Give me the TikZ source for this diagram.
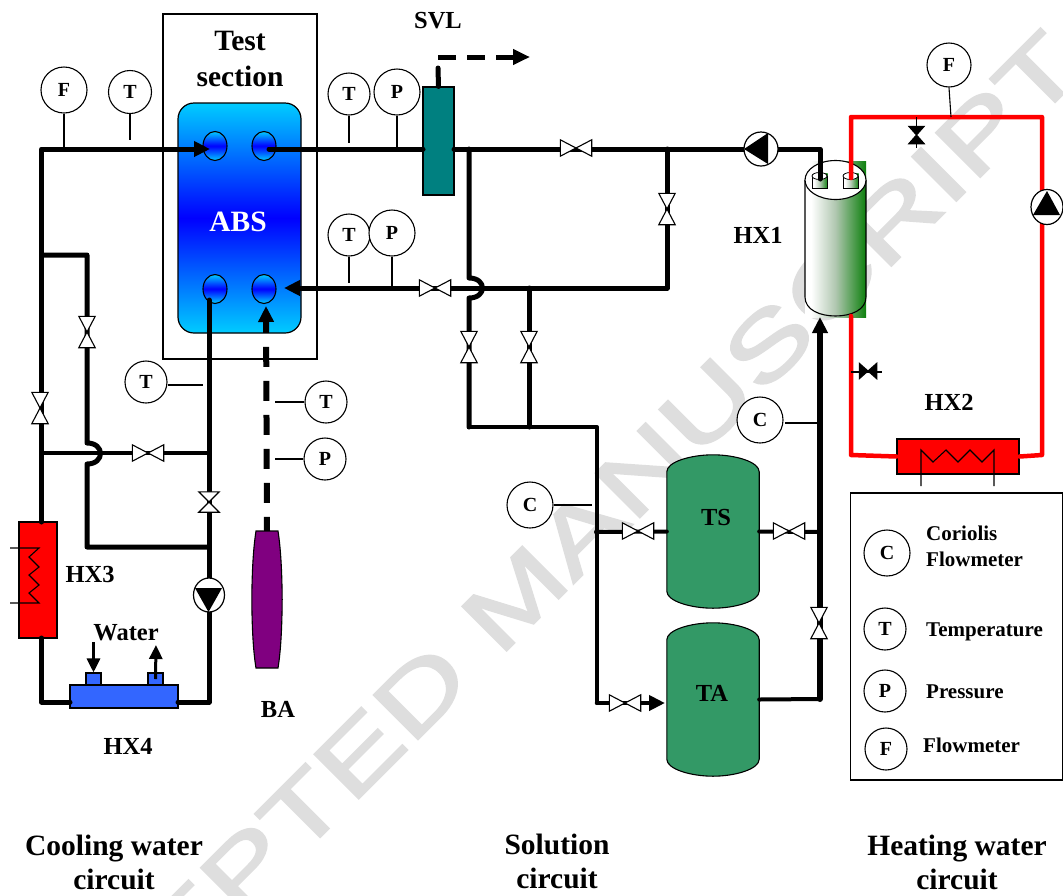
\documentclass[tikz,border=0pt]{standalone}
\usepackage{fontspec}
\setmainfont{Liberation Serif}
\newfontfamily\wmfont[FakeBold=2]{Liberation Sans}
\usetikzlibrary{arrows.meta,calc,shapes.geometric}
\pgfdeclarelayer{wm}\pgfdeclarelayer{equip}\pgfdeclarelayer{pipes}
\pgfsetlayers{wm,equip,pipes,main}
\definecolor{tankgreen}{HTML}{339966}
\definecolor{svlteal}{HTML}{008080}
\definecolor{bapurple}{HTML}{800080}
\definecolor{hxblue}{HTML}{3366FF}
\definecolor{abscyan}{RGB}{0,204,255}
\definecolor{wmgray}{gray}{0.87}
\pgfdeclarehorizontalshading{hxgrad}{100bp}{rgb(0bp)=(1,1,1); rgb(30bp)=(1,1,1); rgb(50bp)=(.69,.78,.69); rgb(75bp)=(.05,.5,.05); rgb(100bp)=(.05,.5,.05)}
\newcommand\fs[1]{\fontsize{#1}{#1}\selectfont\bfseries}
\tikzset{
  x=1pt,y=-1pt,
  pipe/.style={line width=5pt,line cap=round,line join=round},
  thinpipe/.style={line width=4pt,line cap=round,line join=round},
  redpipe/.style={line width=4.5pt,line cap=round,line join=round,red},
  thinline/.style={line width=1.1pt,black},
  inst/.style={circle,draw=black,line width=1.1pt,fill=white,inner sep=0pt,font=\fs{20}},
  lab/.style={inner sep=0pt,font=\fs{24.5},black},
  legt/.style={inner sep=0pt,anchor=west,font=\fs{21},black},
  big/.style={inner sep=0pt,font=\fs{29.5},black},
  vline/.style={draw=black,fill=white,line width=1.1pt,line join=miter},
  bline/.style={draw=black,fill=black,line width=1.1pt},
  pumpbody/.style={ellipse,draw=black,line width=1.2pt,fill=white,inner sep=0pt,minimum width=#1},
  port/.style={ellipse,draw=black,line width=1.1pt,minimum width=24pt,minimum height=29pt,inner sep=0pt,
     top color=abscyan,bottom color=abscyan,middle color=blue},
  tank/.style={draw=black,line width=1.1pt,fill=tankgreen},
  box/.style={draw=black,line width=1.1pt,inner sep=0pt},
  tipa/.style={-{Triangle[length=16pt,width=15pt]}},
}
\newcommand\valveh[3][]{\node[inner sep=0pt,minimum width=31pt,minimum height=16pt,#1] (#2) at (#3) {};
  \draw[vline] (#2.north west)--(#2.south east)--(#2.north east)--(#2.south west)--cycle;}
\newcommand\valvev[3][]{\node[inner sep=0pt,minimum width=16pt,minimum height=31pt,#1] (#2) at (#3) {};
  \draw[vline] (#2.north west)--(#2.north east)--(#2.south west)--(#2.south east)--cycle;}
\begin{document}
\begin{tikzpicture}
\useasboundingbox (0,0) rectangle (1063,895);

% ---------- watermark
\begin{pgfonlayer}{wm}
\fill[white] (0,0) rectangle (1063,895);
\begin{scope}
\clip (0,0) rectangle (1063,895);
\node[rotate=45,inner sep=0pt,text=wmgray,font=\wmfont\fontsize{91}{91}\selectfont] (wmark) at (517,596) {\scalebox{1.38}[1]{ACCEPTED MANUSCRIPT}};
\end{scope}
\end{pgfonlayer}

% ---------- equipment
\begin{pgfonlayer}{equip}
\node[box,line width=1.2pt,minimum width=154pt,minimum height=345pt] (testbox) at (240,186.5) {};
\node[draw=black,line width=1.2pt,rounded corners=16pt,minimum width=123pt,minimum height=230pt,inner sep=0pt,
   top color=abscyan,bottom color=abscyan,middle color=blue] (abs) at (239.5,218) {};
\node[port] (pa) at (215,146) {};
\node[port] (pb) at (264,146) {};
\node[port] (pc) at (215,289) {};
\node[port] (pd) at (264,289) {};
\node[box,fill=svlteal,minimum width=31pt,minimum height=108pt] (svl) at (438.5,141) {};
% BA
\node[inner sep=0pt,minimum width=30pt,minimum height=137pt] (ba) at (267,599.5) {};
\draw[draw=black,line width=1.1pt,fill=bapurple] (256,531)--(278,531) .. controls (281,550) and (282,575) .. (ba.east)
   .. controls (282,625) and (281,650) .. (278,668) -- (256,668) .. controls (253,650) and (252,625) .. (ba.west)
   .. controls (252,575) and (253,550) .. (256,531) -- cycle;
% tanks
\node[inner sep=0pt,minimum width=92pt,minimum height=153pt] (ts) at (713,531.5) {};
\draw[tank] ($(ts.north west)+(0,17)$) .. controls +(0,-10) and +(-22,0) .. (ts.north)
   .. controls +(22,0) and +(0,-10) .. ($(ts.north east)+(0,17)$) -- ($(ts.south east)+(0,-17)$)
   .. controls +(0,10) and +(22,0) .. (ts.south) .. controls +(-22,0) and +(0,10) .. ($(ts.south west)+(0,-17)$) -- cycle;
\node[inner sep=0pt,minimum width=92pt,minimum height=153pt] (ta) at (713,699.5) {};
\draw[tank] ($(ta.north west)+(0,17)$) .. controls +(0,-10) and +(-22,0) .. (ta.north)
   .. controls +(22,0) and +(0,-10) .. ($(ta.north east)+(0,17)$) -- ($(ta.south east)+(0,-17)$)
   .. controls +(0,10) and +(22,0) .. (ta.south) .. controls +(-22,0) and +(0,10) .. ($(ta.south west)+(0,-17)$) -- cycle;
% HX1 cylinder
\node[inner sep=0pt,minimum width=61pt,minimum height=156pt,shading=hxgrad] (hxone) at (835.5,239) {};
\draw[line width=1.1pt,black] (805,180)--(805,297) .. controls (805,310) and (820,316) .. (835.5,316) .. controls (851,316) and (866,310) .. (866,297) -- (866,180);
\node[ellipse,draw=black,line width=1.1pt,fill=white,minimum width=61pt,minimum height=39pt,inner sep=0pt] (hxonetop) at (835.5,180) {};
\node[inner sep=0pt,minimum width=15pt,minimum height=15pt,shading=hxgrad] (pa1) at (820,181) {};
\node[inner sep=0pt,minimum width=15pt,minimum height=15pt,shading=hxgrad] (pa2) at (851,181) {};
\draw[line width=.8pt,black] (812,176)--(812,188)--(827,188)--(827,176);
\draw[line width=.8pt,black] (843,176)--(843,188)--(858,188)--(858,176);
\draw[line width=.8pt,black,fill=white] (819.5,176) ellipse [x radius=7.5,y radius=3.5];
\draw[line width=.8pt,black,fill=white] (850.5,176) ellipse [x radius=7.5,y radius=3.5];
% HX2
\node[box,fill=red,minimum width=122pt,minimum height=35pt] (hxtwo) at (958,456.5) {};
% HX3
\node[box,fill=red,minimum width=38pt,minimum height=116pt] (hxthree) at (38,580) {};
% HX4
\node[box,fill=hxblue,minimum width=108pt,minimum height=23pt] (hxfour) at (124,696.5) {};
\node[box,fill=hxblue,minimum width=15pt,minimum height=12pt] (nuba) at (93.5,679) {};
\node[box,fill=hxblue,minimum width=15pt,minimum height=12pt] (nubb) at (155.5,679) {};
% legend box
\node[box,minimum width=212pt,minimum height=287pt] (legend) at (956.5,636.5) {};
\end{pgfonlayer}

% ---------- HX zigzags
\coordinate (zaa) at (921,486); \coordinate (zab) at (994,486);
\draw[thinline] (zaa)--(921,450)--(933,462)--(946,450)--(958,462)--(970,450)--(982,462)--(994,450)--(zab);
\coordinate (zba) at (10,548); \coordinate (zbb) at (10,603);
\draw[thinline] (zba)--(39,548)--(29,557)--(39,567)--(29,575)--(39,585)--(29,593)--(39,603)--(zbb);

% ---------- instruments
\node[inst,minimum size=46pt] (f1) at (64,90) {F};
\node[inst,minimum size=43pt] (t1) at (130,92) {T};
\node[inst,minimum size=42pt] (t2) at (349,94) {T};
\node[inst,minimum size=46pt] (p2) at (397,92) {P};
\node[inst,minimum size=42pt] (t3) at (349,235) {T};
\node[inst,minimum size=46pt] (p3) at (392,233) {P};
\node[inst,minimum size=42pt] (t4) at (146,382) {T};
\node[inst,minimum size=42pt] (t5) at (326,402) {T};
\node[inst,minimum size=42pt] (p5) at (325,459) {P};
\node[inst,minimum size=46pt] (c1) at (760,420) {C};
\node[inst,minimum size=46pt] (c2) at (530,505) {C};
\node[inst,minimum size=44pt] (f2) at (949,65) {F};
\node[inst,minimum size=46pt] (lc) at (887,553) {C};
\node[inst,minimum size=42pt] (lt) at (885,629) {T};
\node[inst,minimum size=42pt] (lp) at (885,691) {P};
\node[inst,minimum size=42pt] (lf) at (886,749) {F};

% ---------- valves
\valveh{va}{576,148}
\valvev{vb}{667,209}
\valveh{vc}{435,288}
\valvev{vd}{469,347}
\valvev{ve}{529,347}
\valveh{vf}{638,531}
\valveh{vg}{789,531}
\valvev{vh}{819,623}
\valveh{vi}{625,703}
\valvev{vj}{87,332}
\valvev{vk}{40,408}
\valveh{vl}{148,453}
\valvev[minimum width=20pt,minimum height=20pt]{vm}{209,502}
% black valves
\node[inner sep=0pt,minimum width=15pt,minimum height=17pt] (vn) at (916.5,135) {};
\draw[bline] (vn.north west)--(vn.north east)--(vn.south west)--(vn.south east)--cycle;
\node[inner sep=0pt,minimum width=17pt,minimum height=15pt] (vo) at (868,371) {};
\draw[bline] (vo.north west)--(vo.south east)--(vo.north east)--(vo.south west)--cycle;

% ---------- pumps
\node[pumpbody=31pt,minimum height=34pt] (pma) at (209,595) {};
\fill[black] (195,588)--(222,588)--(208.5,612)--cycle;
\node[pumpbody=34pt,minimum height=34pt] (pmb) at (761,149) {};
\fill[black] (744,149)--(768,133)--(768,164)--cycle;
\node[pumpbody=32pt,minimum height=35pt] (pmc) at (1047,207) {};
\fill[black] (1047,191)--(1060,215)--(1033,215)--cycle;

% ---------- pipes
\coordinate (k1) at (41.5,149);  \coordinate (kin) at (210,149);
\coordinate (k2) at (41.5,522);  \coordinate (k3) at (41.5,638);
\coordinate (k4) at (41.5,702);  \coordinate (k4b) at (70,702); \coordinate (k4c) at (178,702); \coordinate (k5) at (209,702);
\coordinate (k6) at (209,300);
\coordinate (k7) at (41.5,255);  \coordinate (k8) at (87,255);
\coordinate (k9) at (87,443);  \coordinate (k10) at (87,464);
\coordinate (k11) at (87,547); \coordinate (k12) at (209,547);
\coordinate (k13) at (41.5,453); \coordinate (k14) at (209,453);
\coordinate (s1) at (269,149); \coordinate (s1b) at (423,149); \coordinate (s1c) at (454,149);
\coordinate (s2) at (820,149); \coordinate (s3) at (820,179);
\coordinate (s4) at (469,149); \coordinate (s5) at (469,278); \coordinate (s6) at (469,298);
\coordinate (s7) at (469,427); \coordinate (s8) at (597,427); \coordinate (s9) at (597,703);
\coordinate (s10) at (665,703); \coordinate (s11) at (529,288); \coordinate (s12) at (529,427);
\coordinate (s13) at (667,149); \coordinate (s14) at (667,288); \coordinate (s15) at (284,288);
\coordinate (s16) at (820,699); \coordinate (s17) at (820,317); \coordinate (s18) at (597,532);
\coordinate (s19) at (819,532); \coordinate (s20) at (438,68); \coordinate (s21) at (438,57);
\coordinate (s22) at (530,57); \coordinate (s24) at (266,306);
\coordinate (r1) at (851,178); \coordinate (r2) at (851,117); \coordinate (r3) at (1042,117);
\coordinate (r4) at (1042,455); \coordinate (r5) at (851,455); \coordinate (r6) at (851,316);
\coordinate (w1) at (93.5,642); \coordinate (w2) at (156,645);

\begin{pgfonlayer}{pipes}
\draw[pipe,tipa] (k2)--(k1)--(kin);
\draw[pipe] (k3)--(k4)--(k4b);
\draw[pipe] (k4c)--(k5)--(k6);
\draw[pipe] (k7)--(k8)--(k9) .. controls (105,443) and (105,464) .. (k10) -- (k11)--(k12);
\draw[pipe,line width=4pt] (k13)--(k14);
\draw[pipe] (s1)--(s1b);
\draw[pipe] (s1c)--(s2)--(s3);
\draw[pipe] (s4)--(s5) .. controls (487,278) and (487,298) .. (s6) -- (s7);
\draw[thinpipe] (s7)--(s8)--(s9);
\draw[pipe,line width=4.5pt,tipa] (s9)--(s10);
\draw[pipe] (s11)--(s12);
\draw[pipe,tipa] (s13)--(s14)--(s15);
\draw[pipe,line width=4pt] (s18)--(ts.west);
\draw[pipe,line width=4pt] (ts.east)--(s19);
\draw[thinpipe] (ta.east)--(s16);
\draw[pipe,line width=6pt,tipa] (s16)--(s17);
\draw[pipe] (svl.north)--(s20);
\draw[line width=5pt,dash pattern=on 18pt off 11pt,-{Triangle[length=17pt,width=15pt]}] (s21)--(s22);
\draw[line width=6pt,dash pattern=on 20pt off 14pt,dash phase=6pt,-{Triangle[length=16pt,width=15pt]}] (ba.north)--(s24);
\draw[redpipe] (r1)--(r2)--(r3)--(r4)--(hxtwo.east);
\draw[redpipe] (hxtwo.west)--(r5)--(r6);
% water arrows
\draw[line width=3pt,-{Triangle[length=14pt,width=13pt]}] (w1)--(nuba.north);
\draw[line width=3pt,-{Triangle[length=14pt,width=13pt]}] (nubb.center)--(w2);
% sensor leads
\draw[thinline] (f1.south)--(64,149);
\draw[thinline] (t1.south)--(130,140);
\draw[thinline] (t2.south)--(349,143);
\draw[thinline] (p2.south)--(397,149);
\draw[thinline] (t3.south)--(349,283);
\draw[thinline] (p3.south)--(392,288);
\draw[thinline] (168,385)--(203,385);
\draw[thinline] (t5.west)--(275,402);
\draw[thinline] (p5.west)--(275,459);
\draw[thinline] (785,423)--(818,423);
\draw[thinline] (c2.east)--(592,505);
\draw[thinline] (f2.south)--(951,117);
\draw[thinline] (916.5,117)--(916.5,148);
\draw[thinline] (851,372)--(882,372);
\end{pgfonlayer}
\fill[black] (s18) circle (3);

% ---------- labels
\node[big] (lbtest) at (240,41) {Test};
\node[big] (lbsec) at (240,76) {section};
\node[big,text=white] (lbabs) at (238,222) {ABS};
\node[lab] (lbsvl) at (438,21) {SVL};
\node[lab] (lbh1) at (758,235) {HX1};
\node[lab] (lbh2) at (949,402) {HX2};
\node[lab] (lbh3) at (90,574) {HX3};
\node[lab] (lbh4) at (128,746) {HX4};
\node[lab] (lbba) at (278,709) {BA};
\node[lab] (lbts) at (716,517) {TS};
\node[lab] (lbta) at (712,693) {TA};
\node[lab] (lbw) at (126,633) {Water};
\node[big] (cwa) at (114,849) {Cooling water};
\node[big] (cwb) at (114,879) {circuit};
\node[big] (saa) at (557,844) {Solution};
\node[big] (sab) at (557,878) {circuit};
\node[big] (hwa) at (957,849) {Heating water};
\node[big] (hwb) at (957,879) {circuit};
\node[legt] (lga) at (926,533) {Coriolis};
\node[legt] (lgb) at (926,559) {Flowmeter};
\node[legt] (lgc) at (926,632) {Temperature};
\node[legt] (lgd) at (926,692) {Pressure};
\node[legt] (lge) at (923,745) {Flowmeter};
\end{tikzpicture}
\end{document}
